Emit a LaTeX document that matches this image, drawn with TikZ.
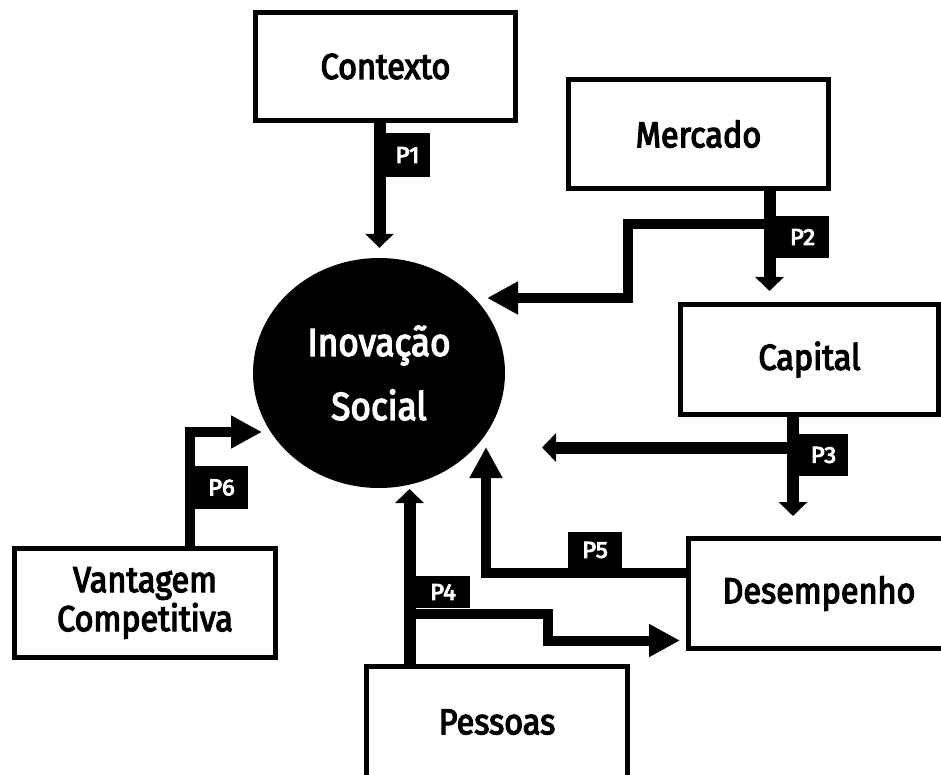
\documentclass[tikz,border=0pt]{standalone}
\usepackage{fontspec}
\setmainfont{Fira Sans}[FakeStretch=0.9]
\newfontfamily\labelfont{Fira Sans}[FakeStretch=0.9, FakeBold=3.5]
\newfontfamily\tagfont{Fira Sans}[FakeStretch=1.05, FakeBold=4]
\usetikzlibrary{arrows.meta,shapes.geometric}

\begin{document}
\begin{tikzpicture}[x=1pt,y=-1pt,
  box/.style={draw, line width=5pt, rectangle, inner sep=0pt, align=center,
    font=\fontsize{36}{39}\selectfont\labelfont},
  tag/.style={fill=black, text=white, inner sep=0pt,
    font=\fontsize{23}{23}\selectfont\tagfont},
  straight/.style={line width=12pt, -{Triangle[length=14pt,width=28pt]}},
  bent/.style={line width=10pt, -{Triangle[length=31pt,width=31pt]}},
]
\useasboundingbox (0,0) rectangle (941,775);

% central construct
\node[ellipse, fill=black, minimum width=252pt, minimum height=230pt, inner sep=0pt,
  text=white, align=center, font=\fontsize{39}{64}\selectfont\labelfont]
  (inov) at (379,373) {Inovação\\Social};

% surrounding constructs
\node[box, minimum width=260pt, minimum height=108pt] (ctx)  at (385.5,66.5)  {Contexto};
\node[box, minimum width=260pt, minimum height=109pt] (merc) at (698.5,134)   {Mercado};
\node[box, minimum width=258pt, minimum height=110pt] (cap)  at (809.5,359.5) {Capital};
\node[box, minimum width=261pt, minimum height=110pt] (des)  at (819,593.5)   {Desempenho};
\node[box, minimum width=261pt, minimum height=111pt] (pess) at (497,722)     {Pessoas};
\node[box, minimum width=261pt, minimum height=109pt] (vant) at (145,603)     {Vantagem\\Competitiva};

% P1: Contexto -> Inovação Social
\draw[straight] ([xshift=-6pt]ctx.south) -- ([shift={(0.5pt,10pt)}]inov.north);
\node[tag, minimum width=45pt, minimum height=44pt] (p1) at (407.5,155) {P1};

% P2: Mercado -> Capital and Mercado -> Inovação Social
\coordinate (p2knee) at (769.5,224);
\draw[straight] ([xshift=71pt]merc.south) -- (769.5,291) coordinate (p2tip);
\draw[bent] (p2knee) -- (628,224) -- (628,298) -- (487,298) coordinate (p2end);
\node[tag, minimum width=53pt, minimum height=42pt] (p2) at (802.5,237) {P2};

% P3: Capital -> Desempenho and Capital -> Inovação Social
\coordinate (p3knee) at (793,447.5);
\draw[straight] ([xshift=-16.5pt]cap.south) -- (793,516) coordinate (p3tip);
\draw[straight] (p3knee) -- (542,447.5) coordinate (p3end);
\node[tag, minimum width=49pt, minimum height=42pt] (p3) at (823.5,455) {P3};

% P4: Pessoas -> Inovação Social and Pessoas -> Desempenho
\coordinate (p4knee) at (409.5,613.5);
\draw[straight] ([xshift=-87.5pt]pess.north) -- (409.5,489) coordinate (p4tip);
\draw[bent] (p4knee) -- (548,613.5) -- (548,640.5) -- ([xshift=-6pt]des.west |- 0,640.5);
\node[tag, minimum width=54pt, minimum height=32pt] (p4) at (443,592) {P4};

% P5: Desempenho -> Inovação Social
\draw[bent] (des.west |- 0,573) -- (486,573) -- (486,447) coordinate (p5tip);
\node[tag, minimum width=54pt, minimum height=36pt] (p5) at (595,550) {P5};

% P6: Vantagem Competitiva -> Inovação Social
\draw[bent] ([xshift=45pt]vant.north) -- (190,432) -- (262,432) coordinate (p6tip);
\node[tag, minimum width=53pt, minimum height=43pt] (p6) at (221.5,487.5) {P6};
\end{tikzpicture}
\end{document}
